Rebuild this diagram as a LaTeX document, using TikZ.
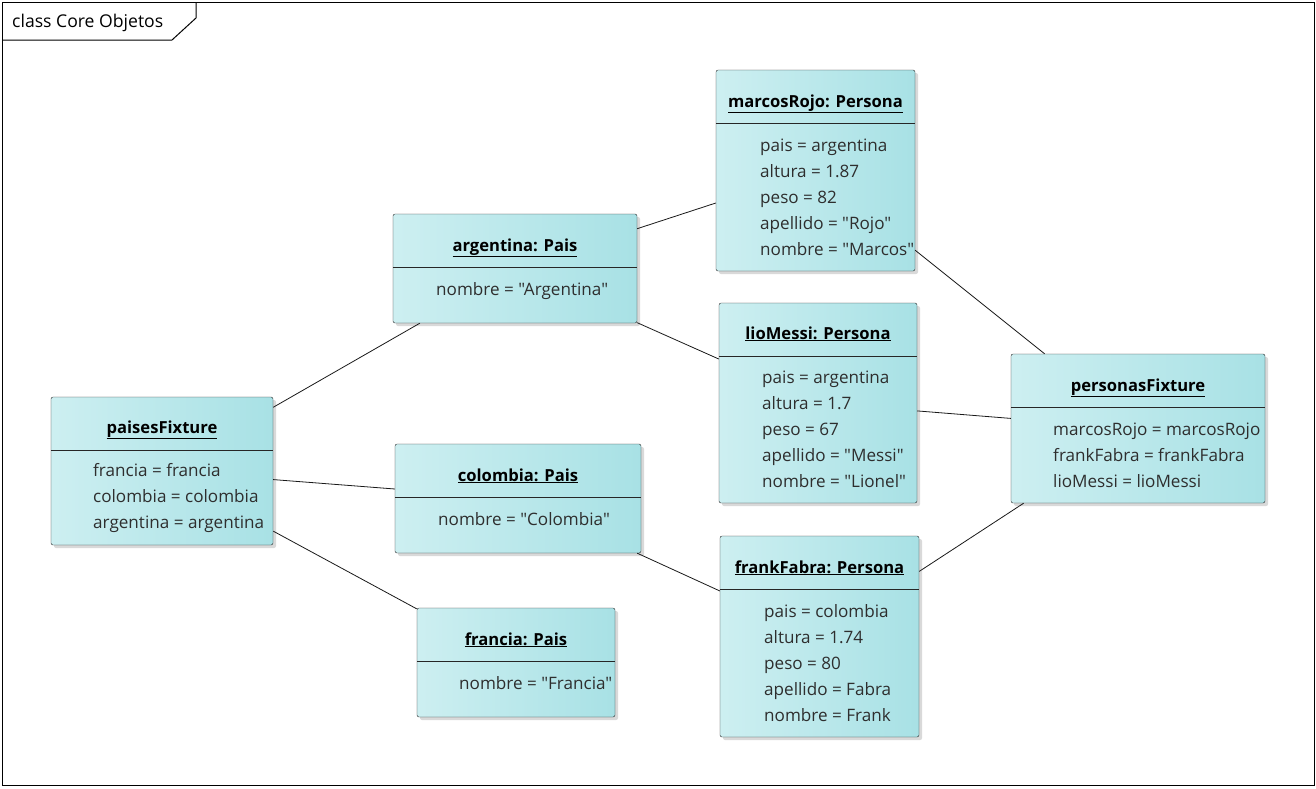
\documentclass[tikz,border=0pt]{standalone}
\usepackage{fontspec}
\setmainfont{Open Sans}[Ligatures=TeXOff]
\usetikzlibrary{shadows}
\definecolor{objleft}{HTML}{CDEFF1}
\definecolor{objright}{HTML}{A8E1E5}
\definecolor{attrtext}{HTML}{2E2E2E}
\tikzset{
	obj/.style={draw=black!85, rounded corners=2pt, shading=axis, left color=objleft, right color=objright,
		drop shadow={shadow xshift=3pt, shadow yshift=-3pt, fill=black!25, opacity=0.6}, inner sep=0pt},
	objtitle/.style={font=\fontsize{16.6}{19}\selectfont\bfseries, anchor=base, inner sep=0pt},
	attr/.style={font=\fontsize{17.1}{20}\selectfont, text=attrtext, anchor=base west, inner sep=0pt},
	link/.style={draw=black!90, line width=0.8pt}
}
\begin{document}
\begin{tikzpicture}[x=1pt, y=-1pt]
	\useasboundingbox (0,0) rectangle (1316,788);
	% frame
	\draw[line width=1pt] (2,2) rectangle (1314,785);
	\draw[line width=1pt] (2,40) -- (172,40) -- (196,18) -- (196,2);
	\node[anchor=base west, inner sep=0pt, font=\fontsize{17.6}{20}\selectfont] (frame) at (12,27) {class Core Objetos};

	% boxes
	\node[obj, minimum width=222, minimum height=148] (pf) at (162,471) {};
	\node[obj, minimum width=244, minimum height=109] (arg) at (515,268.5) {};
	\node[obj, minimum width=246, minimum height=109] (col) at (518,498.5) {};
	\node[obj, minimum width=198, minimum height=109] (fra) at (516,662.5) {};
	\node[obj, minimum width=199, minimum height=201] (mr) at (815.5,170.5) {};
	\node[obj, minimum width=198, minimum height=200] (lm) at (818,403) {};
	\node[obj, minimum width=199, minimum height=201] (ff) at (819.5,636.5) {};
	\node[obj, minimum width=254, minimum height=149] (ps) at (1138,428.5) {};

	% links
	\draw[link] (pf) -- (arg);
	\draw[link] (pf) -- (col);
	\draw[link] (pf) -- (fra);
	\draw[link] (arg) -- (mr);
	\draw[link] (arg) -- (lm);
	\draw[link] (col) -- (ff);
	\draw[link] (mr) -- (ps);
	\draw[link] (lm) -- (ps);
	\draw[link] (ff) -- (ps);

	% header dividers
	\foreach \b in {pf, arg, col, fra, mr, lm, ff, ps}
		\draw[draw=black!85, line width=0.8pt] ([yshift=-54pt]\b.north west) -- ([yshift=-54pt]\b.north east);

	% titles
	\node[objtitle] (pft) at (162,433) {\underline{paisesFixture}};
	\node[objtitle] (argt) at (515,251) {\underline{argentina: Pais}};
	\node[objtitle] (colt) at (518,481) {\underline{colombia: Pais}};
	\node[objtitle] (frat) at (516,645) {\underline{francia: Pais}};
	\node[objtitle] (mrt) at (815.5,107) {\underline{marcosRojo: Persona}};
	\node[objtitle] (lmt) at (818,339) {\underline{lioMessi: Persona}};
	\node[objtitle] (fft) at (819.5,573) {\underline{frankFabra: Persona}};
	\node[objtitle] (pst) at (1138,391) {\underline{personasFixture}};

	% attributes
	\foreach \t [count=\i] in {francia = francia, colombia = colombia, argentina = argentina}
		\node[attr] (pfa\i) at (93,450+26*\i) {\t};
	\node[attr] (arga1) at (436,295) {nombre = "Argentina"};
	\node[attr] (cola1) at (438,525) {nombre = "Colombia"};
	\node[attr] (fraa1) at (459,689) {nombre = "Francia"};
	\foreach \t [count=\i] in {pais = argentina, altura = 1.87, peso = 82, apellido = "Rojo", nombre = "Marcos"}
		\node[attr] (mra\i) at (760,125+26*\i) {\t};
	\foreach \t [count=\i] in {pais = argentina, altura = 1.7, peso = 67, apellido = "Messi", nombre = "Lionel"}
		\node[attr] (lma\i) at (762,357+26*\i) {\t};
	\foreach \t [count=\i] in {pais = colombia, altura = 1.74, peso = 80, apellido = Fabra, nombre = Frank}
		\node[attr] (ffa\i) at (764,591+26*\i) {\t};
	\foreach \t [count=\i] in {marcosRojo = marcosRojo, frankFabra = frankFabra, lioMessi = lioMessi}
		\node[attr] (psa\i) at (1053,409+26*\i) {\t};
\end{tikzpicture}
\end{document}
